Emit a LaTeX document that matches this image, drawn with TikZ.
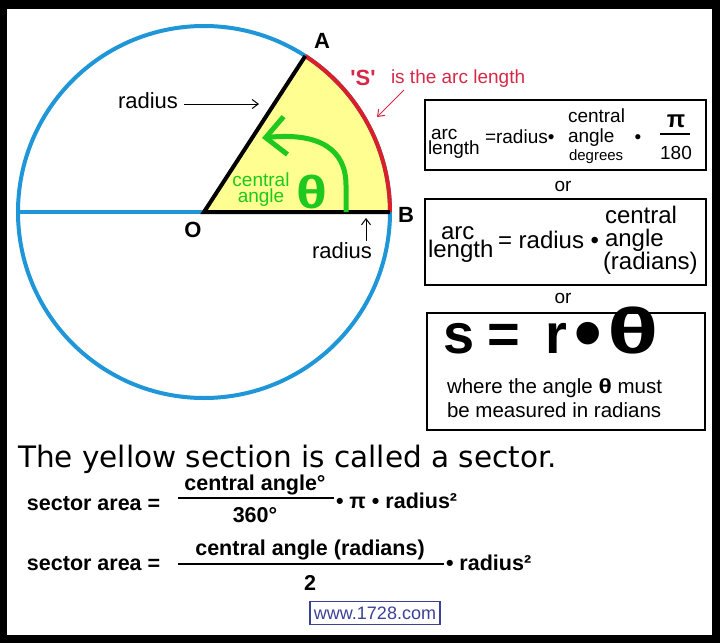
\documentclass[tikz,border=0pt]{standalone}
\usepackage{fontspec}
\setmainfont{Liberation Sans}
\newfontfamily\dejavu{DejaVu Sans}
\usetikzlibrary{arrows.meta}
\newcommand\fs[1]{\fontsize{#1}{#1}\selectfont}
\newcommand\fss[2]{\fontsize{#1}{#2}\selectfont}
\definecolor{cblue}{RGB}{30,150,215}
\definecolor{cred}{RGB}{220,30,40}
\definecolor{ctred}{RGB}{215,40,70}
\definecolor{cyel}{RGB}{255,255,145}
\definecolor{cgreen}{RGB}{30,200,30}
\definecolor{curl}{RGB}{60,65,150}
\begin{document}
\begin{tikzpicture}[x=1pt,y=-1pt,
  every node/.style={inner sep=0pt,outer sep=0pt},
  lbl/.style={font=\fs{22}},
  pt/.style={font=\fs{22}\bfseries},
  bxa/.style={font=\fs{19}},
  bxb/.style={font=\fs{24}},
  frm/.style={font=\fs{21.5}\bfseries},
  boxline/.style={draw=black,line width=2pt},
  thin arrow/.style={line width=1pt,-{Straight Barb[length=6pt,width=9pt]}},
  bar/.style={line width=2.5pt}]
\useasboundingbox (0,0) rectangle (720,643);
% frame
\fill[black] (0,0) rectangle (720,643);
\fill[white] (7,9) rectangle (712,635);
% circle and sector
\coordinate (O) at (204,212);
\coordinate (B) at (390,212);
\coordinate (A) at (305.3,56.0);
\coordinate (L) at (18,212);
\fill[cyel] (O) -- (B) arc[start angle=0,end angle=-57,radius=186] -- cycle;
\draw[cblue,line width=4pt] (O) circle[radius=186];
\draw[cblue,line width=4pt] (L) -- (O);
\draw[cred,line width=4pt] (B) arc[start angle=0,end angle=-57,radius=186];
\draw[black,line width=4pt] (A) -- (O) -- (B);
% green angle arrow
\coordinate (g1) at (346,212);
\coordinate (g2) at (346,185);
\coordinate (g3) at (262,138);
\draw[cgreen,line width=5pt,-{Straight Barb[length=20pt,width=38pt]}]
  (g1) -- (g2) .. controls (346,150) and (320,132) .. (g3);
\node[font=\fss{19}{16},text=cgreen,align=center] (ca) at (261,190) {central\\angle};
\node[font=\fs{44}\bfseries,text=cgreen] (th) at (312,192) {\scalebox{1.3}[1.05]{θ}};
% point labels
\node[pt,anchor=base] (lA) at (322,48) {A};
\node[pt,anchor=base] (lB) at (406,222) {B};
\node[pt,anchor=base] (lO) at (193,237) {O};
% arc length label
\node[font=\fs{22}\bfseries,text=ctred,anchor=base] (S) at (363,85) {\textquotesingle S\textquotesingle};
\node[font=\fs{19},text=ctred,anchor=base west] (sal) at (391,83) {is the arc length};
\coordinate (sa1) at (404,90);
\coordinate (sa2) at (377,117);
\draw[ctred,thin arrow] (sa1) -- (sa2);
% radius labels
\node[lbl,anchor=base] (rad1) at (148,108) {radius};
\coordinate (r1a) at (184,104);
\coordinate (r1b) at (259,104);
\draw[thin arrow] (r1a) -- (r1b);
\node[lbl,anchor=base] (rad2) at (342,258) {radius};
\coordinate (r2a) at (366,241);
\coordinate (r2b) at (366,218);
\draw[thin arrow] (r2a) -- (r2b);
% box 1
\node[boxline,minimum width=281pt,minimum height=70pt] (box1) at (565.5,135) {};
\node[font=\fss{19}{13},align=left,anchor=west] (al1) at (428,143.5) {\hspace*{3pt}arc\\length};
\node[bxa,anchor=base west] (eq1) at (485,143) {=radius•};
\node[font=\fss{19}{20},align=left,anchor=west] (ca1) at (568,128) {central\\angle};
\node[font=\fs{15},anchor=base west] (deg) at (569,160) {degrees};
\node[bxa,anchor=base] (dot1) at (638,143) {•};
\node[font=\fs{24}\bfseries] (pi1) at (676,121) {π};
\coordinate (f1a) at (660,134);
\coordinate (f1b) at (690,134);
\draw[line width=2pt] (f1a) -- (f1b);
\node[bxa,anchor=base] (oneeighty) at (676,159) {180};
\node[bxa] (or1) at (563,186) {or};
% box 2
\node[boxline,minimum width=281pt,minimum height=86pt] (box2) at (565.5,242) {};
\node[font=\fss{24}{17},align=left,anchor=west] (al2) at (428,244.6) {\hspace*{13pt}arc\\length};
\node[bxb,anchor=base west] (eq2) at (498,248) {= radius •};
\node[font=\fss{24}{23},align=left,anchor=west] (ca2) at (603,240.7) {\hspace*{2pt}central\\\hspace*{2pt}angle\\(radians)};
\node[bxa] (or2) at (563,298) {or};
% box 3
\node[boxline,minimum width=278pt,minimum height=117pt] (box3) at (566,371.5) {};
\node[font=\fs{56}\bfseries,anchor=base west] (srt) at (443,353)
  {s\hspace{13pt}=\hspace{26pt}r\hspace{7pt}\raisebox{-6pt}{\scalebox{1.4}{•}}\hspace{5pt}\scalebox{1.7}[1.15]{θ}};
\node[font=\fss{20.5}{24},align=left,anchor=west] (where) at (447,398)
  {where the angle {\bfseries\scalebox{1.2}[1]{θ}} must\\be measured in radians};
% bottom text
\node[font=\dejavu\fs{29.5},anchor=base west] (sent) at (18,467) {The yellow section is called a sector.};
% formula 1
\node[frm,anchor=base west] (sa) at (27,510) {sector area =};
\node[frm,anchor=base] (n1) at (255,490) {central angle°};
\coordinate (b1a) at (178,498);
\coordinate (b1b) at (334,498);
\draw[bar] (b1a) -- (b1b);
\node[frm,anchor=base] (d1) at (255,522) {360°};
\node[frm,anchor=base west] (t1) at (336,508) {• π • radius²};
% formula 2
\node[frm,anchor=base west] (sb) at (27,570) {sector area =};
\node[frm,anchor=base] (n2) at (310,555) {central angle (radians)};
\coordinate (b2a) at (178,564);
\coordinate (b2b) at (444,564);
\draw[bar] (b2a) -- (b2b);
\node[frm,anchor=base] (d2) at (310,590) {2};
\node[frm,anchor=base west] (t2) at (446,570) {• radius²};
% url
\node[draw=curl,line width=1.5pt,text=curl,font=\fs{18},inner xsep=4pt,minimum height=23pt] (url) at (375,613) {www.1728.com};
\end{tikzpicture}
\end{document}
